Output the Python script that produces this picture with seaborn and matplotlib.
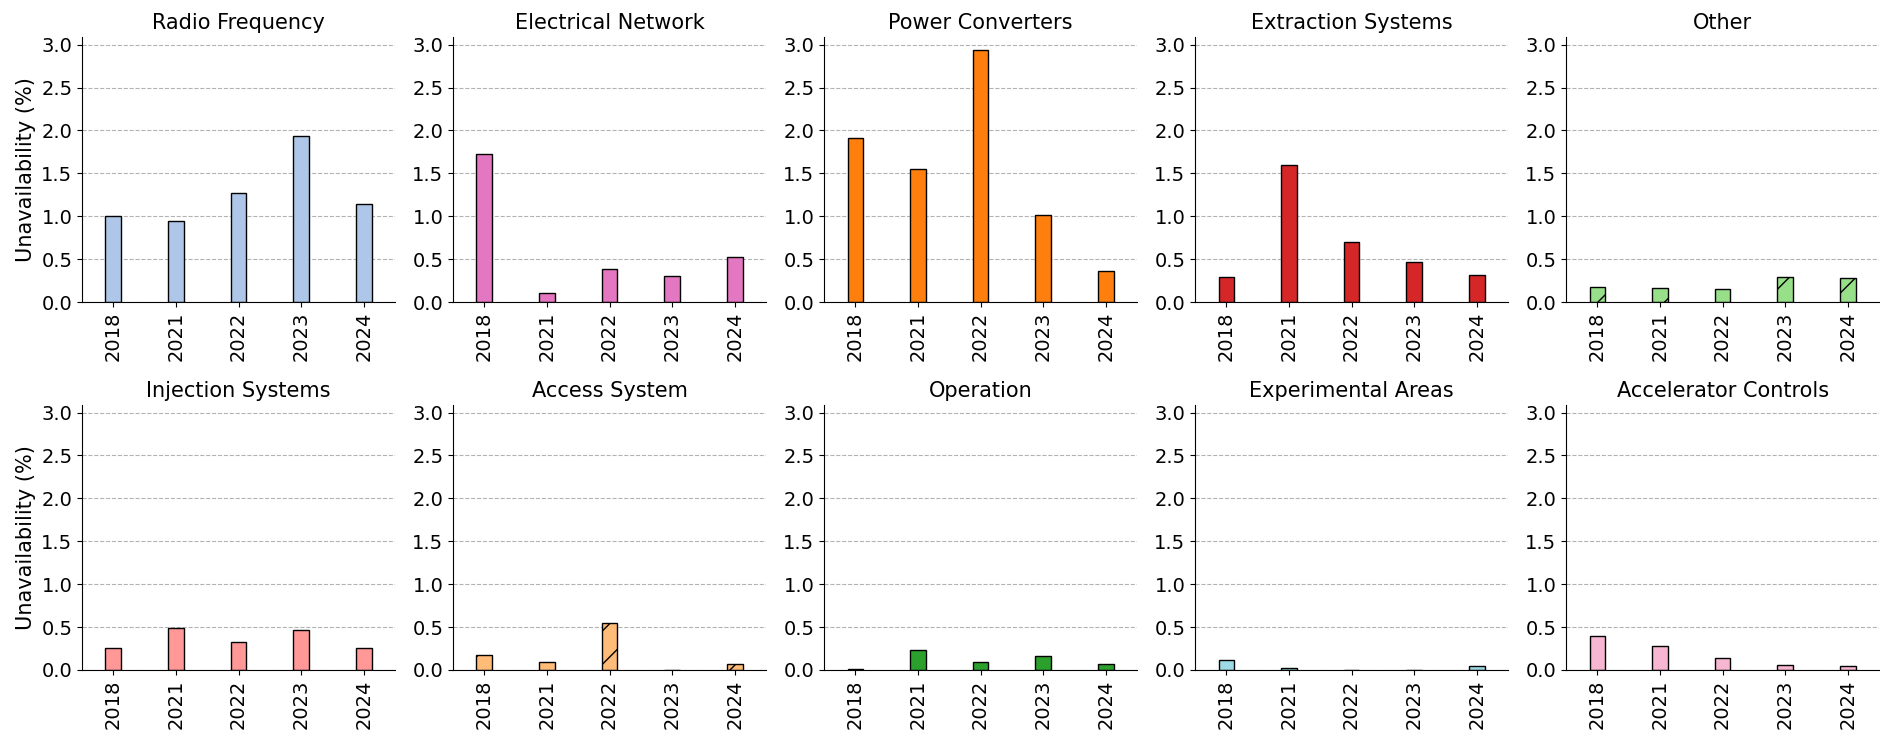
import pandas as pd
import seaborn as sns
import matplotlib.pyplot as plt

years = ['2018', '2021', '2022', '2023', '2024']

radio_frequency = [1.00, 0.95, 1.27, 1.94, 1.14]
electrical_network = [1.73, 0.11, 0.38, 0.30, 0.52]
power_converters = [1.91, 1.55, 2.94, 1.01, 0.36]
extraction_systems = [0.29, 1.60, 0.70, 0.47, 0.31]
other = [0.18, 0.16, 0.15, 0.29, 0.28]
injection_systems = [0.26, 0.49, 0.33, 0.47, 0.26]
access_system = [0.18, 0.09, 0.55, 0.0, 0.07]
operation = [0.01, 0.23, 0.09, 0.16, 0.07]
experimental_areas = [0.12, 0.02, 0.0, 0.0, 0.05]
accelerator_controls = [0.40, 0.28, 0.14, 0.06, 0.05]

systems = ['Radio Frequency', 'Electrical Network', 'Power Converters', 'Extraction Systems', 'Other',
           'Injection Systems', 'Access System', 'Operation', 'Experimental Areas', 'Accelerator Controls']
values = [radio_frequency, electrical_network, power_converters, extraction_systems, other,
          injection_systems, access_system, operation, experimental_areas, accelerator_controls]
colors = ['#aec7e8', '#e377c2', '#ff7f0e', '#d62728', '#98df8a',
          '#ff9896', '#ffbb78', '#2ca02c', '#9edae5', '#f7b6d2']
hatched = ['Other', 'Access System']

ymax = max(max(v) for v in values) * 1.05

fig, axes = plt.subplots(2, 5, figsize=(18.81, 7.43), dpi=100)
fig.subplots_adjust(left=0.0436, right=0.999, top=0.950, bottom=0.0983, wspace=0.185, hspace=0.389)

for ax, name, vals, col in zip(axes.flat, systems, values, colors):
    df = pd.DataFrame({'year': years, 'value': vals})
    sns.barplot(data=df, x='year', y='value', color=col, width=0.25,
                edgecolor='black', linewidth=1, saturation=1, ax=ax)
    if name in hatched:
        for p in ax.patches:
            p.set_hatch('/')
    ax.set_title(name, fontsize=15)
    ax.set_xlabel('')
    ax.set_ylabel('')
    ax.set_ylim(0, ymax)
    ax.set_xlim(-0.5, 4.5)
    ax.set_yticks([0, 0.5, 1.0, 1.5, 2.0, 2.5, 3.0])
    ax.tick_params(axis='both', labelsize=14)
    ax.tick_params(axis='x', labelrotation=90)
    ax.grid(axis='y', linestyle='--', color='gray', alpha=0.6)
    ax.set_axisbelow(True)
    sns.despine(ax=ax)

axes[0, 0].set_ylabel('Unavailability (%)', fontsize=15)
axes[1, 0].set_ylabel('Unavailability (%)', fontsize=15)

plt.savefig('out.png')
